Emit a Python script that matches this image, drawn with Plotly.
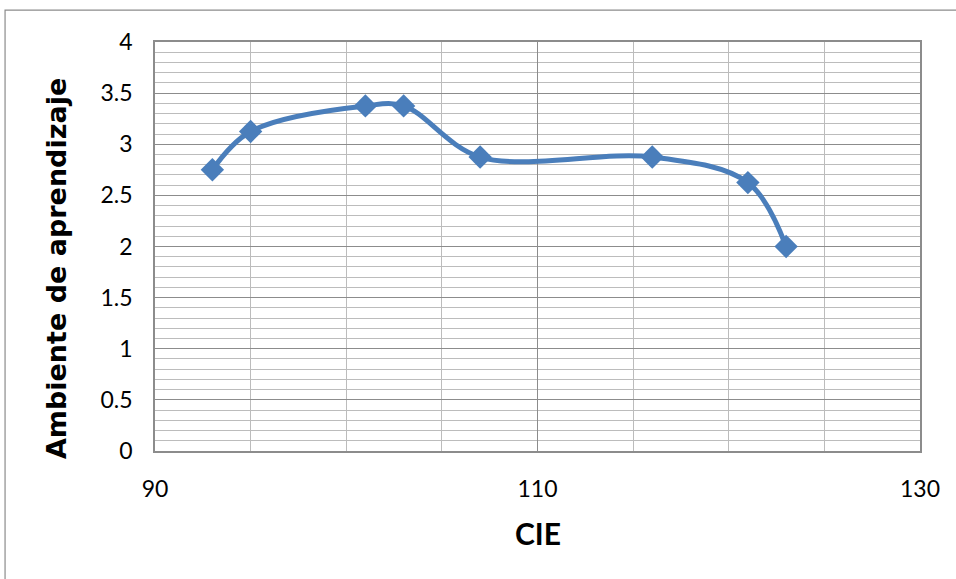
import plotly.graph_objects as go

# CIE vs Ambiente de aprendizaje
cie = [93, 95, 101, 103, 107, 116, 121, 123]
ambiente = [2.75, 3.125, 3.375, 3.375, 2.875, 2.875, 2.625, 2.0]

blue = '#4a7ebb'
major_grid = '#8c8c8c'
minor_grid = '#bcbcbc'

fig = go.Figure()
fig.add_trace(go.Scatter(
    x=cie, y=ambiente, mode='lines+markers',
    line=dict(color=blue, width=5, shape='spline', smoothing=1.0),
    marker=dict(symbol='diamond', size=18, color=blue),
    showlegend=False))

fig.update_xaxes(
    range=[90, 130], dtick=20, tick0=90,
    showgrid=True, gridcolor=major_grid, gridwidth=1,
    minor=dict(dtick=5, showgrid=True, gridcolor=minor_grid, gridwidth=1),
    showline=True, linecolor=major_grid, linewidth=1.5, mirror=True,
    zeroline=False, ticks='', ticklabelstandoff=17,
    tickfont=dict(family='Lato', size=23, color='#000'))
fig.update_yaxes(
    range=[0, 4], dtick=0.5,
    showgrid=True, gridcolor=major_grid, gridwidth=1,
    minor=dict(dtick=0.1, showgrid=True, gridcolor=minor_grid, gridwidth=1),
    showline=True, linecolor=major_grid, linewidth=1.5, mirror=True,
    zeroline=False, ticks='', ticklabelstandoff=16,
    tickfont=dict(family='Lato', size=23, color='#000'))

# axis titles placed as annotations to match the original position
fig.add_annotation(text='<b>Ambiente de aprendizaje</b>', textangle=-90,
                   xref='paper', yref='paper', x=-0.128, y=0.445,
                   xanchor='center', yanchor='middle',
                   showarrow=False, font=dict(family='DejaVu Sans', size=27, color='#000'))
fig.add_annotation(text='<b>CIE</b>', xref='paper', yref='paper', x=0.5, y=-0.2,
                   xanchor='center', yanchor='middle',
                   showarrow=False, font=dict(family='Lato', size=30, color='#000'))

# outer chart border
fig.add_shape(type='rect', xref='paper', yref='paper', x0=-0.196, x1=1.2, y0=-0.4, y1=1.078,
              line=dict(color='#8c8c8c', width=1.2))

fig.update_layout(
    width=956, height=579,
    margin=dict(l=155, r=36, t=42, b=128),
    paper_bgcolor='white', plot_bgcolor='white')

fig.write_html("out.html", config={'displayModeBar': False},
               post_script="document.body.style.margin='0';")
